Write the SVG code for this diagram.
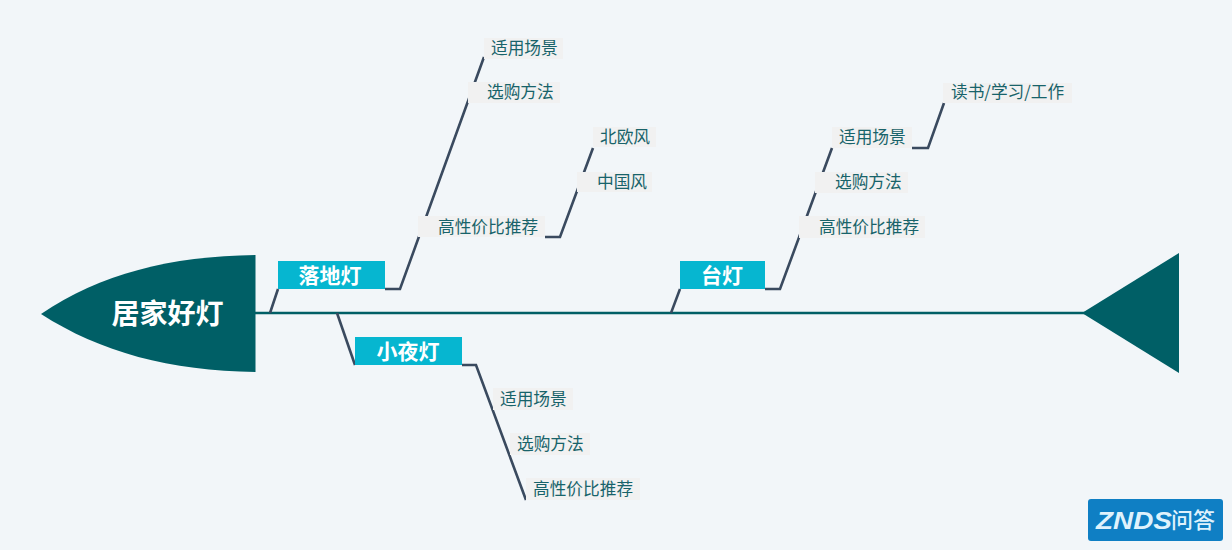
<svg xmlns="http://www.w3.org/2000/svg" width="1232" height="550" viewBox="0 0 1232 550">
<style>
text{font-family:"Liberation Sans","Noto Sans CJK SC",sans-serif}
.c{fill:none;stroke:#3a4a5f;stroke-width:2.6}
.bg{fill:#f1f1f1}
.l{font-size:16.7px;fill:#18636a;font-family:"Noto Sans CJK SC",sans-serif}
.m{fill:#06b6d0}
.mt{font-size:21px;font-weight:700;fill:#fff;text-anchor:middle;font-family:"Noto Sans CJK SC",sans-serif}
</style>
<rect width="1232" height="550" fill="#f2f6f9"/>
<g id="connectors">
<path d="M255 313H1090" fill="none" stroke="#005f66" stroke-width="2.4"/>
<path class="c" d="M270 313L278 289"/>
<path class="c" d="M385 289H400L484 57"/>
<path class="c" d="M545 237H560L593 148"/>
<path class="c" d="M671 313L680 289"/>
<path class="c" d="M765 289H780L832 148"/>
<path class="c" d="M912 148H928L944 103"/>
<path class="c" d="M337 313L355 365"/>
<path class="c" d="M462 365H476L526 500"/>
</g>
<g id="head"><path d="M41 314C100 274 170 256 255.500 255V372C170 371 100 352 41 314Z" fill="#005f66"/><text x="167.500" y="324" font-size="28" font-weight="700" fill="#fff" text-anchor="middle" style="font-family:'Noto Sans CJK SC',sans-serif">居家好灯</text></g>
<g id="tail"><path d="M1082 313L1179 253V373Z" fill="#005f66"/></g>
<g id="n-floor"><rect class="m" x="278" y="261" width="107" height="28"/><text class="mt" x="330" y="283">落地灯</text></g>
<g id="n-night"><rect class="m" x="355" y="337" width="107" height="28"/><text class="mt" x="408" y="359">小夜灯</text></g>
<g id="n-desk"><rect class="m" x="680" y="261" width="85" height="28"/><text class="mt" x="722" y="283">台灯</text></g>
<g id="f1"><rect class="bg" x="484" y="38" width="79" height="21"/><text class="l" x="491" y="54">适用场景</text></g>
<g id="f2"><rect class="bg" x="468" y="82" width="92" height="21"/><text class="l" x="487" y="98">选购方法</text></g>
<g id="f3"><rect class="bg" x="418" y="216" width="127" height="21"/><text class="l" x="438" y="233">高性价比推荐</text></g>
<g id="f31"><rect class="bg" x="593" y="127" width="63" height="20"/><text class="l" x="600" y="143">北欧风</text></g>
<g id="f32"><rect class="bg" x="577" y="172" width="75" height="20"/><text class="l" x="597" y="188">中国风</text></g>
<g id="d1"><rect class="bg" x="832" y="127" width="80" height="21"/><text class="l" x="839" y="143">适用场景</text></g>
<g id="d11"><rect class="bg" x="943" y="83" width="129" height="20"/><text class="l" x="951" y="98">读书/学习/工作</text></g>
<g id="d2"><rect class="bg" x="815" y="172" width="93" height="21"/><text class="l" x="835" y="188">选购方法</text></g>
<g id="d3"><rect class="bg" x="799" y="216" width="126" height="22"/><text class="l" x="819" y="233">高性价比推荐</text></g>
<g id="y1"><rect class="bg" x="493" y="388" width="80" height="22"/><text class="l" x="500" y="405">适用场景</text></g>
<g id="y2"><rect class="bg" x="510" y="433" width="80" height="22"/><text class="l" x="517" y="450">选购方法</text></g>
<g id="y3"><rect class="bg" x="526" y="478" width="114" height="22"/><text class="l" x="533" y="495">高性价比推荐</text></g>
<g id="logo"><rect x="1088" y="499" width="135" height="42" rx="3" fill="#0f7fc4"/><text x="1096" y="529" font-size="23" font-weight="700" font-style="italic" fill="#dff2fc" textLength="76" lengthAdjust="spacingAndGlyphs">ZNDS</text><text x="1171" y="528" font-size="22" font-weight="500" fill="#dff2fc" style="font-family:'Noto Sans CJK SC',sans-serif">问答</text></g>
</svg>
